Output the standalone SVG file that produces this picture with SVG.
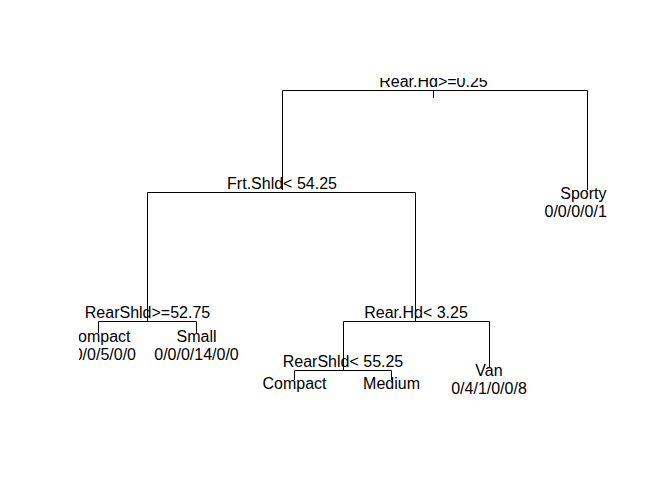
<svg xmlns="http://www.w3.org/2000/svg" width="647" height="493" viewBox="0 0 647 493">
<style>
  .bg { fill: #ffffff; }
  .lbl { font-family: "Liberation Sans", Arial, Helvetica, sans-serif; font-size: 16px; fill: #000000; text-anchor: middle; }
  .edge { stroke: #000000; stroke-width: 1; fill: none; }
</style>
<defs>
  <clipPath id="plotclip">
    <rect x="79" y="78" width="528.5" height="317"/>
  </clipPath>
</defs>
<rect class="bg" x="0" y="0" width="647" height="493"/>
<g clip-path="url(#plotclip)">
  <g id="connectors">
    <path class="edge" d="M433.5 90.5 V98"/>
    <path class="edge" d="M282.5 190 V90.5 H587.5 V190"/>
    <path class="edge" d="M147.5 321 V192.5 H415.5 V321"/>
    <path class="edge" d="M98.5 333 V321.5 H196.5 V333"/>
    <path class="edge" d="M343.5 370 V321.5 H489.5 V367"/>
    <path class="edge" d="M294.5 380 V370.5 H391.5 V380"/>
  </g>
  <g id="node-root">
    <text class="lbl" x="433.5" y="87">Rear.Hd&gt;=0.25</text>
  </g>
  <g id="node-frtshld">
    <text class="lbl" x="282" y="189">Frt.Shld&lt; 54.25</text>
  </g>
  <g id="node-sporty">
    <text class="lbl" x="606.5" y="199" style="text-anchor:end">Sporty</text>
    <text class="lbl" x="544.5" y="217" style="text-anchor:start">0/0/0/0/1</text>
  </g>
  <g id="node-rearshld1">
    <text class="lbl" x="147.5" y="318">RearShld&gt;=52.75</text>
  </g>
  <g id="node-rearhd">
    <text class="lbl" x="416" y="318">Rear.Hd&lt; 3.25</text>
  </g>
  <g id="node-compact1">
    <text class="lbl" x="98.5" y="342">Compact</text>
    <text class="lbl" x="136" y="360" style="text-anchor:end">0/0/5/0/0</text>
  </g>
  <g id="node-small">
    <text class="lbl" x="196.5" y="342">Small</text>
    <text class="lbl" x="196.5" y="360">0/0/0/14/0/0</text>
  </g>
  <g id="node-rearshld2">
    <text class="lbl" x="343" y="367">RearShld&lt; 55.25</text>
  </g>
  <g id="node-van">
    <text class="lbl" x="489" y="376">Van</text>
    <text class="lbl" x="489" y="394">0/4/1/0/0/8</text>
  </g>
  <g id="node-compact2">
    <text class="lbl" x="294.5" y="389">Compact</text>
  </g>
  <g id="node-medium">
    <text class="lbl" x="391.5" y="389">Medium</text>
  </g>
</g>
</svg>
